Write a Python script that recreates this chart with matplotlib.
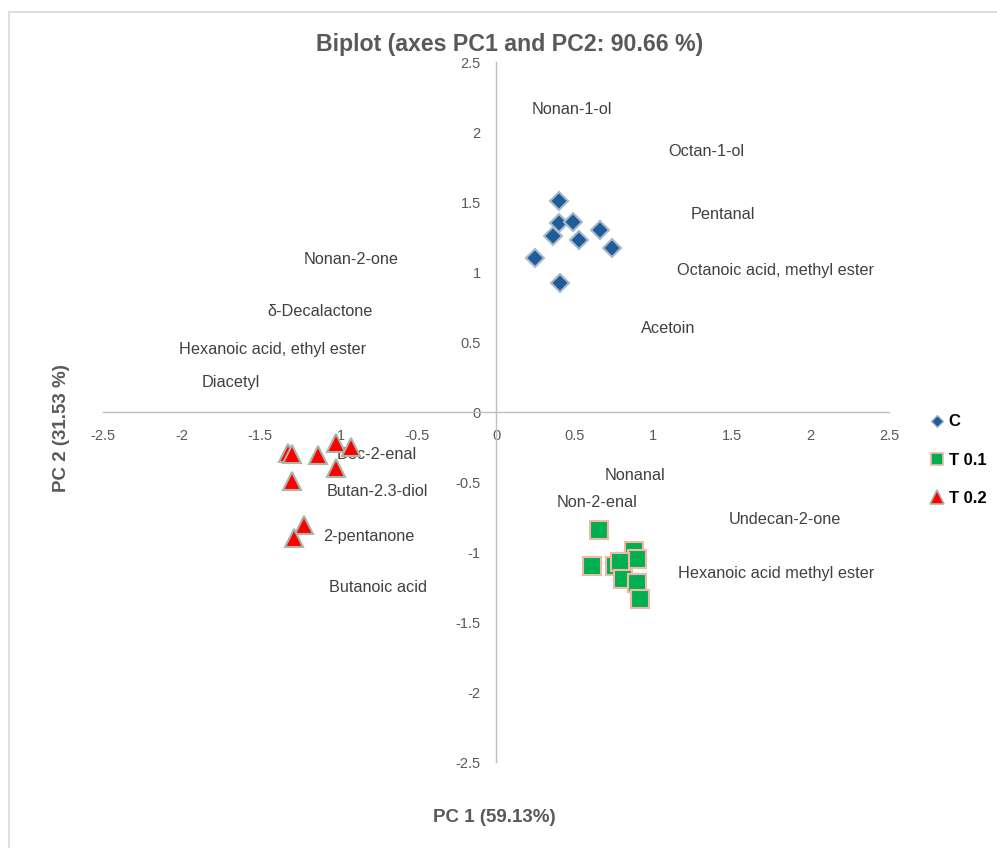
import matplotlib
matplotlib.use('Agg')
import matplotlib.pyplot as plt  # NOQA
from matplotlib.lines import Line2D  # NOQA
from matplotlib.patches import Rectangle  # NOQA

plt.rcParams['font.family'] = ['Liberation Sans', 'DejaVu Sans']

# group scores (PC1, PC2)
c_x = [0.40, 0.40, 0.49, 0.36, 0.53, 0.66, 0.74, 0.25, 0.41]
c_y = [1.51, 1.35, 1.36, 1.26, 1.23, 1.30, 1.17, 1.10, 0.92]

t01_x = [0.655, 0.61, 0.755, 0.88, 0.90, 0.79, 0.81, 0.90, 0.915]
t01_y = [-0.84, -1.10, -1.10, -0.99, -1.05, -1.07, -1.19, -1.22, -1.335]

t02_x = [-1.32, -1.30, -1.13, -1.02, -0.92, -1.02, -1.30, -1.22, -1.285]
t02_y = [-0.29, -0.30, -0.31, -0.22, -0.25, -0.40, -0.49, -0.81, -0.90]

# variable labels (loadings)
var_names = ['Nonan-1-ol', 'Octan-1-ol', 'Pentanal',
             'Octanoic acid, methyl ester', 'Acetoin', 'Nonan-2-one',
             'δ-Decalactone', 'Hexanoic acid, ethyl ester', 'Diacetyl',
             'Dec-2-enal', 'Butan-2.3-diol', '2-pentanone', 'Butanoic acid',
             'Nonanal', 'Non-2-enal', 'Undecan-2-one',
             'Hexanoic acid methyl ester']
var_x = [0.483, 1.336, 1.444, 1.775, 1.094, -0.922, -1.120, -1.419, -1.686,
         -0.757, -0.757, -0.808, -0.751, 0.884, 0.643, 1.838, 1.781]
var_y = [2.164, 1.864, 1.414, 1.014, 0.593, 1.086, 0.721, 0.45, 0.214,
         -0.307, -0.571, -0.886, -1.25, -0.45, -0.643, -0.771, -1.157]

ticks = [-2.5, -2, -1.5, -1, -0.5, 0, 0.5, 1, 1.5, 2, 2.5]
tick_labels = ['-2.5', '-2', '-1.5', '-1', '-0.5', '0',
               '0.5', '1', '1.5', '2', '2.5']

grey = '#595959'

fig = plt.figure(figsize=(9.97, 8.48), dpi=100)
fig.patches.append(Rectangle((9 / 997, -0.1), 1.2, 1 - 12 / 848 + 0.1,
                             transform=fig.transFigure, fill=False,
                             edgecolor='#d9d9d9', linewidth=1.2))
ax = fig.add_axes([103 / 997, 1 - 762 / 848, 786 / 997, 700 / 848])
ax.set_xlim(-2.5, 2.5)
ax.set_ylim(-2.5, 2.5)

for s in ['top', 'right']:
    ax.spines[s].set_visible(False)
for s in ['left', 'bottom']:
    ax.spines[s].set_position(('data', 0))
    ax.spines[s].set_color('#bfbfbf')
    ax.spines[s].set_linewidth(1.0)

ax.set_xticks(ticks)
ax.set_xticklabels(tick_labels)
ax.set_yticks(ticks)
ax.set_yticklabels(tick_labels)
ax.tick_params(axis='x', length=0, pad=12, labelsize=10.5, labelcolor=grey)
ax.tick_params(axis='y', length=0, pad=11, labelsize=10.5, labelcolor=grey)

for n, x, y in zip(var_names, var_x, var_y):
    ax.text(x, y, n, ha='center', va='center', fontsize=11.7,
            color='#404040')

ax.plot(c_x, c_y, 'D', ms=9.5, mfc='#1f5c99', mec='#a9b9cc', mew=1.5,
        ls='none', zorder=3)
ax.plot(t01_x, t01_y, 's', ms=13, mfc='#00b050', mec='#f4b6a6', mew=1.5,
        ls='none', zorder=3)
ax.plot(t02_x, t02_y, '^', ms=13, mfc='#ff0000', mec='#aab5aa', mew=1.5,
        ls='none', zorder=3)

fig.text(510 / 997, 1 - 45 / 848, 'Biplot (axes PC1 and PC2: 90.66 %)',
         ha='center', va='center', fontsize=16.7, fontweight='bold',
         color=grey)
fig.text(494 / 997, 1 - 817 / 848, 'PC 1 (59.13%)', ha='center',
         va='center', fontsize=13.5, fontweight='bold', color=grey)
fig.text(61 / 997, 1 - 428 / 848, 'PC 2 (31.53 %)', ha='center',
         va='center', rotation=90, fontsize=13.5, fontweight='bold',
         color=grey)

handles = [
    Line2D([], [], marker='D', ls='none', ms=6.5, mfc='#1f5c99',
           mec='#a9b9cc', mew=1),
    Line2D([], [], marker='s', ls='none', ms=9, mfc='#00b050',
           mec='#f4b6a6', mew=1.2),
    Line2D([], [], marker='^', ls='none', ms=9.5, mfc='#ff0000',
           mec='#aab5aa', mew=1.2),
]
fig.legend(handles, ['C', 'T 0.1', 'T 0.2'], loc='upper left',
           bbox_to_anchor=(922 / 997, 1 - 406 / 848), frameon=False,
           prop={'weight': 'bold', 'size': 12}, handlelength=0.8,
           handletextpad=0.3, labelspacing=1.4, borderpad=0)

fig.savefig('out.png', dpi=100, facecolor='white')
